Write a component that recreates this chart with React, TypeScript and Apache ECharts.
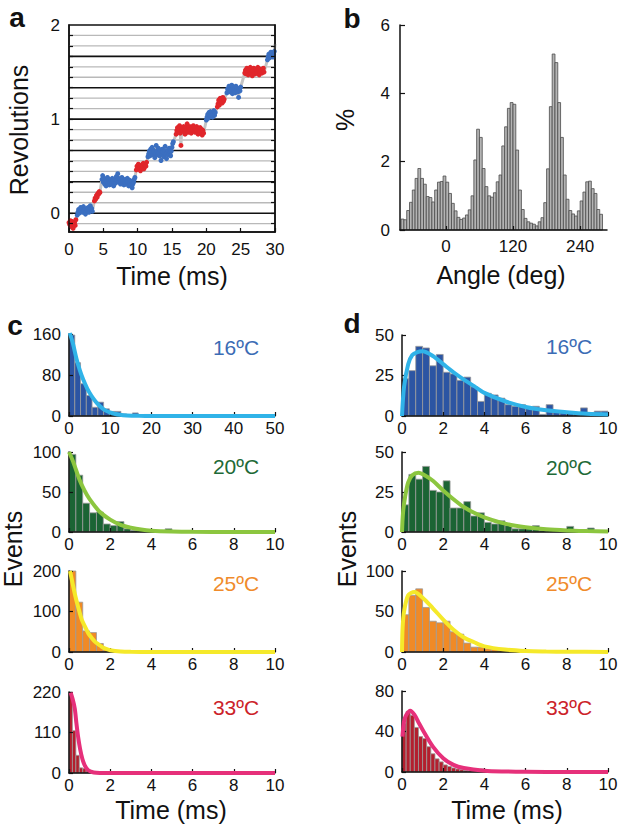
import React, { useEffect, useRef } from "react";
import * as echarts from "echarts";

const FONT = "'Liberation Sans', Arial, Helvetica, sans-serif";

// ---------- Panel a: rotation trace ----------
const traceStep = 0.1; // ms between samples
const traceSegments = [
  { start: 0.0, state: "red", values: [-0.10, -0.12, -0.08, -0.14, -0.11, -0.09, -0.16, -0.12, -0.10, -0.13, -0.07] },
  { start: 1.2, state: "blue", values: [-0.02, 0.01, 0.04, 0.00, 0.03, 0.06, 0.02, 0.05, 0.01, 0.07, 0.03, 0.04, -0.01, 0.02, 0.05, 0.03, 0.06, 0.01, 0.04, 0.08, 0.03, 0.05, 0.02] },
  { start: 3.7, state: "red", values: [0.13, 0.16, 0.15, 0.19, 0.17, 0.21, 0.20, 0.23, 0.22] },
  { start: 4.8, state: "blue", values: [0.36, 0.40, 0.33, 0.37, 0.31, 0.35, 0.29, 0.34, 0.38, 0.32, 0.36, 0.30, 0.33, 0.35, 0.31, 0.37, 0.34, 0.29, 0.33, 0.36, 0.32, 0.39, 0.35, 0.42, 0.37, 0.33, 0.36, 0.31, 0.34, 0.38, 0.32, 0.35, 0.30, 0.33, 0.36, 0.31, 0.34, 0.37, 0.33, 0.29, 0.35, 0.32, 0.30, 0.34, 0.27, 0.31, 0.33, 0.36, 0.38] },
  { start: 9.8, state: "red", values: [0.46, 0.50, 0.48, 0.52, 0.47, 0.49, 0.45, 0.51, 0.48, 0.50, 0.53, 0.47, 0.49, 0.52, 0.50, 0.54] },
  { start: 11.5, state: "blue", values: [0.60, 0.63, 0.66, 0.61, 0.68, 0.64, 0.70, 0.62, 0.67, 0.65, 0.59, 0.63, 0.72, 0.66, 0.62, 0.69, 0.64, 0.61, 0.67, 0.56, 0.63, 0.68, 0.65, 0.60, 0.66, 0.71, 0.63, 0.58, 0.64, 0.67, 0.62, 0.69, 0.65, 0.61, 0.66, 0.70, 0.74, 0.76] },
  { start: 15.6, state: "red", values: [0.84, 0.88, 0.91, 0.86, 0.89, 0.93, 0.85, 0.72, 0.88, 0.90, 0.87, 0.92, 0.89, 0.84, 0.91, 0.88, 0.95, 0.86, 0.90, 0.87, 0.92, 0.89, 0.85, 0.91, 0.88, 0.93, 0.87, 0.90, 0.86, 0.89, 0.92, 0.88, 0.84, 0.90, 0.87, 0.91, 0.86, 0.89, 0.83, 0.88, 0.85] },
  { start: 20.0, state: "blue", values: [0.99, 1.02, 1.05, 1.01, 1.07, 1.04, 1.08, 1.03, 1.06, 1.02, 1.05, 1.09, 1.04, 1.07] },
  { start: 21.6, state: "red", values: [1.13, 1.16, 1.20, 1.15, 1.22, 1.18, 1.21, 1.17, 1.23, 1.19, 1.21] },
  { start: 23.0, state: "blue", values: [1.28, 1.32, 1.30, 1.35, 1.29, 1.33, 1.31, 1.36, 1.27, 1.34, 1.30, 1.32, 1.28, 1.35, 1.31, 1.33, 1.29, 1.23, 1.32, 1.30, 1.34] },
  { start: 25.6, state: "red", values: [1.49, 1.52, 1.48, 1.54, 1.51, 1.47, 1.53, 1.50, 1.55, 1.49, 1.52, 1.46, 1.51, 1.54, 1.50, 1.48, 1.53, 1.51, 1.49, 1.55, 1.52, 1.47, 1.50, 1.53, 1.51, 1.49, 1.52, 1.54, 1.50] },
  { start: 28.9, state: "blue", values: [1.63, 1.66, 1.69, 1.65, 1.68, 1.71, 1.67, 1.70, 1.66, 1.69, 1.72] },
];
const traceEnd = [30, 1.8];
// horizontal reference lines every 40 degrees (1/9 revolution), index -1..17
const revolutionLineIndex = [-1, 0, 1, 2, 3, 4, 5, 6, 7, 8, 9, 10, 11, 12, 13, 14, 15, 16, 17];
const revolutionLabels = [0, 1, 2];

// ---------- Panel b: angle histogram ----------
const angleBinStart = -80;
const angleBinWidth = 5;
const anglePercent = [
  0.32, 0.30, 0.57, 0.81, 1.17, 1.51, 1.80, 1.51, 1.34, 0.98,
  0.95, 0.82, 1.17, 1.40, 1.42, 1.58, 1.40, 1.07, 0.78, 0.56,
  0.37, 0.31, 0.35, 0.44, 0.59, 1.00, 2.05, 2.95, 2.71, 1.80,
  1.27, 1.00, 0.96, 1.09, 1.41, 1.61, 2.46, 3.02, 3.56, 3.73,
  3.68, 2.34, 1.17, 0.60, 0.34, 0.24, 0.20, 0.17, 0.12, 0.24,
  0.36, 0.80, 1.79, 3.61, 5.15, 4.90, 3.73, 2.71, 1.61, 0.90,
  0.57, 0.47, 0.41, 0.56, 0.85, 1.11, 1.41, 1.43, 1.21, 1.07,
  0.60, 0.46,
];
const angleLabels = [0, 120, 240];

// ---------- Panel c: dwell-time histograms ----------
const temps = ["16ºC", "20ºC", "25ºC", "33ºC"];
const cBinWidths = [1.4, 1 / 3, 1 / 3, 1 / 6];
const c16Counts = [158, 104, 63, 40, 17, 27, 14, 9, 9, 4, 3, 6, 2, 3, 1, 2, 1, 2, 1, 1, 1];
const c20Counts = [97, 71, 36, 24, 25, 10, 8, 13, 4, 2, 3, 2, 1, 1, 4, 1, 0.5, 1, 0.5, 0.5, 0.5, 0.5, 1, 0, 0.5];
const c25Counts = [200, 123, 52, 48, 21, 8, 4, 2, 1, 1, 0.5, 0.5];
const c33Counts = [220, 115, 48, 14, 12, 9, 7, 4, 2, 1, 1, 0.5];
const c16Fit = [[0.2, 162], [1, 140], [1.8, 112], [2.6, 90], [3.4, 72], [4.4, 54], [5.4, 40], [6.4, 29], [7.4, 20], [8.6, 12], [9.9, 7], [11, 4.5], [12.3, 2.5], [14, 1.2], [17, 0.4], [20, 0.1], [30, 0], [50, 0]];
const c20Fit = [[0, 100], [0.2, 88], [0.5, 66], [0.75, 52], [1, 41], [1.5, 25], [2, 15.5], [2.5, 9], [3, 5.5], [3.5, 3], [4, 1.6], [5, 0.6], [6, 0.2], [8, 0], [10, 0]];
const c25Fit = [[0.05, 200], [0.29, 142], [0.45, 110], [0.62, 80], [0.8, 60], [0.94, 46], [1.1, 35], [1.27, 25], [1.45, 18], [1.6, 12.5], [1.8, 7.5], [2, 4.5], [2.5, 1.5], [3, 0.5], [4, 0], [10, 0]];
const c33Fit = [[0.08, 218], [0.18, 200], [0.28, 175], [0.36, 135], [0.44, 99], [0.54, 65], [0.65, 38], [0.77, 20], [0.89, 10], [1.05, 4], [1.2, 1.5], [1.5, 0.3], [2, 0], [10, 0]];

// ---------- Panel d: histograms with gamma-like fits ----------
const dBinWidths = [1 / 3, 1 / 3, 1 / 3, 0.2];
const d16Counts = [23, 28, 43, 42, 31, 38, 27, 26, 22, 24, 18, 9, 14, 13, 11, 7, 6, 7, 5, 6, 1, 7, 3, 2, 2, 2, 5, 2, 3, 3];
const d20Counts = [17, 36, 33, 41, 26, 25, 32, 15, 15, 19, 10, 12, 6, 5, 7, 4, 2, 2, 2, 4, 1, 1, 1, 1, 3.5, 1, 0.5, 2.5, 0.5, 0.5];
const d25Counts = [46, 70, 78, 55, 38, 36, 38, 25, 22, 11, 6, 6, 4, 3, 2, 1, 0.5, 0.5, 0.5, 0.5, 0.5, 0, 0, 0, 0, 0, 0, 1.6];
const d33Counts = [48, 60, 56, 44, 35, 33, 25, 18, 13, 10, 7, 5.5, 4, 3, 2.3, 1.6, 1, 1, 0.8, 3, 0.5, 0.5, 0.5, 0.5, 1, 0.3];
const d16Fit = [[0, 0], [0.1, 18], [0.3, 32], [0.5, 37.6], [0.75, 39.5], [1, 40], [1.5, 37], [2, 32], [2.5, 27], [3, 22.5], [3.5, 18.4], [4, 14.3], [5, 9.1], [6, 5.6], [7, 3.5], [8, 2.3], [9, 1.4], [10, 1]];
const d20Fit = [[0, 0], [0.05, 12], [0.15, 22], [0.3, 31], [0.5, 35.5], [0.8, 37], [1.1, 35.5], [1.5, 32], [2, 26], [2.5, 20.5], [3, 15.6], [3.5, 12], [4, 9.2], [5, 5.2], [6, 3], [7, 1.7], [8, 1], [9, 0.6], [10, 0.3]];
const d25Fit = [[0, 0], [0.03, 30], [0.1, 50], [0.3, 70], [0.6, 74], [1, 67], [1.5, 54], [2, 40], [2.5, 27.5], [3, 18], [3.5, 12], [4, 7], [5, 3], [6, 1.2], [7, 0.6], [8, 0.3], [10, 0.1]];
const d33Fit = [[0.02, 35], [0.1, 50], [0.2, 56], [0.4, 60.5], [0.6, 56.6], [0.8, 49], [1, 41.7], [1.5, 25], [2, 13.6], [2.5, 7], [3, 3.9], [4, 1.3], [5, 0.5], [6, 0.2], [8, 0], [10, 0]];

const cYMax = [160, 100, 200, 220];
const cYStep = [80, 50, 100, 110];
const dYMax = [50, 50, 100, 80];
const dYStep = [25, 25, 50, 40];

const barColors = ["#2c55a3", "#1b6434", "#f08a26", "#b31f2e"];
const fitColors = ["#30b3e8", "#8cc63f", "#f5e92a", "#e6307a"];
const titleColors = ["#3b6cb5", "#1e6a37", "#f08b2b", "#cc2229"];

function buildOption() {
  const labelStyle = { color: "#111", fontFamily: FONT, fontSize: 17 };
  const grids: any[] = [
    { left: 69, top: 25, width: 206, height: 207, show: true, borderColor: "#111", borderWidth: 1.5, backgroundColor: "transparent" },
    { left: 400, top: 25, width: 207, height: 205 },
    { left: 69, top: 334, width: 206, height: 82 },
    { left: 69, top: 452, width: 206, height: 80 },
    { left: 69, top: 571, width: 206, height: 81 },
    { left: 69, top: 692, width: 206, height: 81 },
    { left: 402, top: 335, width: 206, height: 81 },
    { left: 402, top: 452, width: 206, height: 80 },
    { left: 402, top: 571, width: 206, height: 81 },
    { left: 402, top: 691, width: 206, height: 81 },
  ].map((g) => ({ ...g, containLabel: false, outerBoundsMode: "none" }));

  const line = { show: true, onZero: false, lineStyle: { color: "#111", width: 1.5 } };
  const tickIn = { show: true, inside: true, length: 4, lineStyle: { color: "#111", width: 1.2 } };
  const xAxes: any[] = [];
  const yAxes: any[] = [];
  const series: any[] = [];

  // Panel a axes
  const tickLevels = revolutionLineIndex.map((k) => k / 9);
  xAxes.push({ gridIndex: 0, type: "value", min: 0, max: 30, interval: 5, axisLine: line, axisTick: tickIn, splitLine: { show: false }, axisLabel: { ...labelStyle, margin: 9 }, z: 5 });
  yAxes.push({ gridIndex: 0, type: "value", min: -0.2, max: 2, axisLine: line, axisTick: { ...tickIn, customValues: tickLevels }, splitLine: { show: false }, axisLabel: { ...labelStyle, margin: 9, customValues: revolutionLabels }, z: 5 });
  // Panel b axes
  xAxes.push({ gridIndex: 1, type: "value", min: -82, max: 288, axisLine: line, axisTick: { ...tickIn, customValues: angleLabels }, splitLine: { show: false }, axisLabel: { ...labelStyle, margin: 8, customValues: angleLabels }, z: 5 });
  yAxes.push({ gridIndex: 1, type: "value", min: 0, max: 6, interval: 2, axisLine: line, axisTick: { ...tickIn, length: 5 }, splitLine: { show: false }, axisLabel: { ...labelStyle, margin: 10 }, z: 5 });
  // Panels c and d axes
  for (let i = 0; i < 4; i++) {
    xAxes.push({ gridIndex: 2 + i, type: "value", min: 0, max: i === 0 ? 50 : 10, interval: i === 0 ? 10 : 2, axisLine: line, axisTick: tickIn, splitLine: { show: false }, axisLabel: { ...labelStyle, margin: 4 }, z: 5 });
    yAxes.push({ gridIndex: 2 + i, type: "value", min: 0, max: cYMax[i], interval: cYStep[i], axisLine: line, axisTick: tickIn, splitLine: { show: false }, axisLabel: { ...labelStyle, margin: 8 }, z: 5 });
  }
  for (let i = 0; i < 4; i++) {
    xAxes.push({ gridIndex: 6 + i, type: "value", min: 0, max: 10, interval: 2, axisLine: line, axisTick: tickIn, splitLine: { show: false }, axisLabel: { ...labelStyle, margin: 4 }, z: 5 });
    yAxes.push({ gridIndex: 6 + i, type: "value", min: 0, max: dYMax[i], interval: dYStep[i], axisLine: line, axisTick: tickIn, splitLine: { show: false }, axisLabel: { ...labelStyle, margin: 8 }, z: 5 });
  }
  // right-hand axis of panel a (index 10)
  yAxes.push({ gridIndex: 0, type: "value", position: "right", min: -0.2, max: 2, axisLine: line, axisTick: { ...tickIn, customValues: tickLevels }, splitLine: { show: false }, axisLabel: { show: false }, z: 5 });

  // Panel a: reference lines
  series.push({
    type: "custom", xAxisIndex: 0, yAxisIndex: 0, silent: true, z: 1, clip: false,
    data: revolutionLineIndex.map((k) => [0, k / 9, 30, k % 3 === 0 ? 1 : 0]),
    encode: { x: [0, 2], y: 1 },
    renderItem: (_p: any, api: any) => {
      const a = api.coord([api.value(0), api.value(1)]);
      const b = api.coord([api.value(2), api.value(1)]);
      const major = api.value(3) === 1;
      return { type: "line", shape: { x1: a[0], y1: a[1], x2: b[0], y2: b[1] }, style: { stroke: major ? "#111" : "#b9b9b9", lineWidth: major ? 1.6 : 1.3 } };
    },
  });
  const allPts: number[][] = [];
  const redPts: number[][] = [];
  const bluePts: number[][] = [];
  traceSegments.forEach((seg) => {
    seg.values.forEach((v, i) => {
      const p = [Math.round((seg.start + i * traceStep) * 100) / 100, v];
      allPts.push(p);
      (seg.state === "red" ? redPts : bluePts).push(p);
    });
  });
  allPts.push(traceEnd);
  series.push({ type: "line", xAxisIndex: 0, yAxisIndex: 0, data: allPts, showSymbol: false, silent: true, z: 2, lineStyle: { color: "#c4c4c4", width: 3 } });
  series.push({ type: "scatter", xAxisIndex: 0, yAxisIndex: 0, data: redPts, symbolSize: 5, silent: true, z: 3, itemStyle: { color: "#e0262b", opacity: 1 } });
  series.push({ type: "scatter", xAxisIndex: 0, yAxisIndex: 0, data: bluePts, symbolSize: 5, silent: true, z: 3, itemStyle: { color: "#3b6fc0", opacity: 1 } });

  // histogram helper
  const hist = (axis: number, start: number, width: number, counts: number[], fill: string, stroke: string, lw: number) => ({
    type: "custom", xAxisIndex: axis, yAxisIndex: axis, silent: true, z: 2, clip: false,
    data: counts.map((c, i) => [start + i * width, start + (i + 1) * width, c]),
    encode: { x: [0, 1], y: 2 },
    renderItem: (_p: any, api: any) => {
      const tl = api.coord([api.value(0), api.value(2)]);
      const br = api.coord([api.value(1), 0]);
      return { type: "rect", shape: { x: tl[0], y: tl[1], width: br[0] - tl[0], height: br[1] - tl[1] }, style: { fill, stroke, lineWidth: lw } };
    },
  });

  series.push(hist(1, angleBinStart, angleBinWidth, anglePercent, "#b4b4b4", "#4a4a4a", 0.8));

  const cCounts = [c16Counts, c20Counts, c25Counts, c33Counts];
  const cFits = [c16Fit, c20Fit, c25Fit, c33Fit];
  const dCounts = [d16Counts, d20Counts, d25Counts, d33Counts];
  const dFits = [d16Fit, d20Fit, d25Fit, d33Fit];
  for (let i = 0; i < 4; i++) {
    series.push(hist(2 + i, 0, cBinWidths[i], cCounts[i], barColors[i], "#9a9a9a", 0.8));
    series.push({ type: "line", xAxisIndex: 2 + i, yAxisIndex: 2 + i, data: cFits[i], smooth: 0.3, showSymbol: false, silent: true, z: 6, lineStyle: { color: fitColors[i], width: 4 } });
    series.push(hist(6 + i, 0, dBinWidths[i], dCounts[i], barColors[i], "#9a9a9a", 0.8));
    series.push({ type: "line", xAxisIndex: 6 + i, yAxisIndex: 6 + i, data: dFits[i], smooth: 0.3, showSymbol: false, silent: true, z: 6, lineStyle: { color: fitColors[i], width: 4 } });
  }

  const txt = (text: string, x: number, y: number, size: number, opts: any = {}) => ({
    type: "text", x, y, rotation: opts.rotation || 0, z: 20, silent: true,
    style: { text, fill: opts.color || "#111", font: `${opts.bold ? "bold " : ""}${size}px ${FONT}`, textAlign: "center", textVerticalAlign: "middle" },
  });
  const cTitleY = [347, 466, 583, 707];
  const dTitleY = [346, 467, 583, 707];
  const graphics: any[] = [
    txt("a", 17, 17, 28, { bold: true }),
    txt("b", 352, 18, 28, { bold: true }),
    txt("c", 15, 325, 28, { bold: true }),
    txt("d", 352, 323, 28, { bold: true }),
    txt("Revolutions", 19, 130, 25, { rotation: Math.PI / 2 }),
    txt("Time (ms)", 172, 276, 25),
    txt("%", 345, 120, 25, { rotation: Math.PI / 2 }),
    txt("Angle (deg)", 501, 275, 25),
    txt("Events", 13, 549, 25, { rotation: Math.PI / 2 }),
    txt("Events", 347, 549, 25, { rotation: Math.PI / 2 }),
    txt("Time (ms)", 171, 810, 25),
    txt("Time (ms)", 507, 810, 25),
  ];
  for (let i = 0; i < 4; i++) {
    graphics.push(txt(temps[i], 236, cTitleY[i], 21, { color: titleColors[i] }));
    graphics.push(txt(temps[i], 569, dTitleY[i], 21, { color: titleColors[i] }));
  }

  return {
    animation: false,
    backgroundColor: "#fff",
    grid: grids,
    xAxis: xAxes,
    yAxis: yAxes,
    series,
    graphic: graphics,
  };
}

export default function App() {
  const ref = useRef<HTMLDivElement>(null);
  useEffect(() => {
    const chart = echarts.init(ref.current!, null, { renderer: "svg" });
    chart.setOption(buildOption() as any);
    return () => chart.dispose();
  }, []);
  return <div ref={ref} style={{ position: "absolute", left: 0, top: 0, width: 620, height: 827, background: "#fff" }} />;
}
